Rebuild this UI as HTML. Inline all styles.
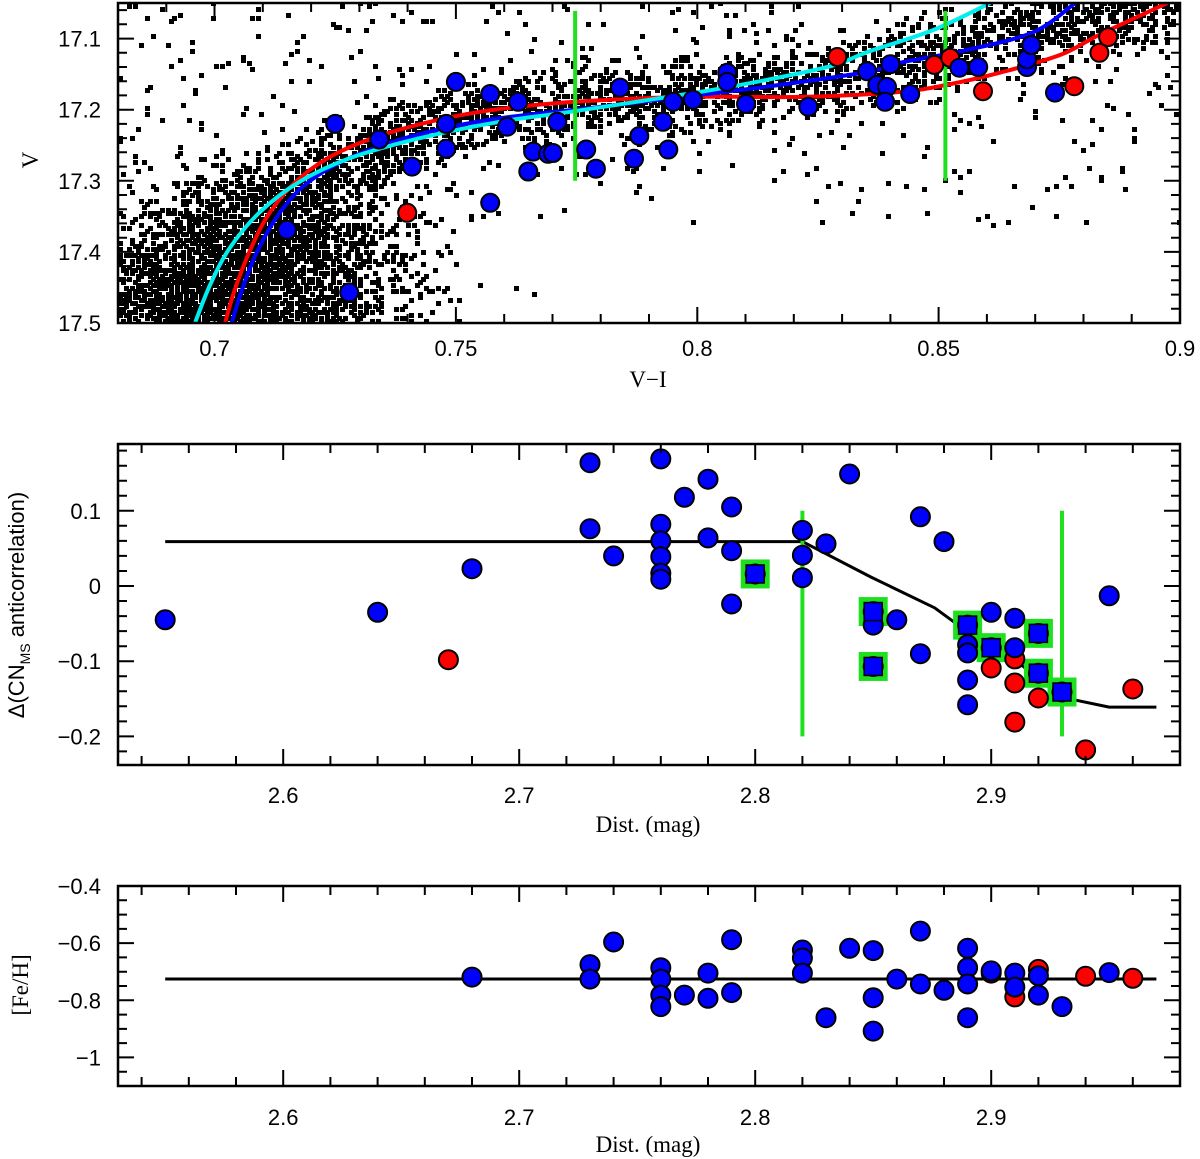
<!DOCTYPE html>
<html><head><meta charset="utf-8"><title>CMD and CN anticorrelation</title>
<style>
html,body{margin:0;padding:0;background:#fff;}
svg{display:block;}
.tk{font-family:"Liberation Sans",sans-serif;font-size:22px;fill:#000;}
.tt{font-family:"Liberation Serif",serif;font-size:23px;fill:#000;}
</style></head>
<body>
<svg id="fig" xmlns="http://www.w3.org/2000/svg" width="1200" height="1159" viewBox="0 0 1200 1159">
<defs>
<clipPath id="c1"><rect x="118" y="3" width="1062" height="320"/></clipPath>
<clipPath id="c2"><rect x="118" y="444" width="1062" height="321"/></clipPath>
<clipPath id="c3"><rect x="118" y="886" width="1062" height="200"/></clipPath>
</defs>
<g id="p1"></g>
<g id="p2"></g>
<g id="p3"></g>
</svg>
<script>
// ---------- Panel 1 data (V-I, V) ----------
const p1BlueC = [0.7250,0.7341,0.7409,0.7150,0.7279,0.7500,0.7571,0.7629,0.7480,0.7480,0.7571,0.7606,0.7660,0.7650,0.7691,0.7701,0.7710,0.7770,0.7790,0.7840,0.7880,0.7869,0.7929,0.7940,0.7950,0.7991,0.8062,0.8062,0.8101,0.8230,0.8352,0.8373,0.8393,0.8400,0.8389,0.8441,0.8543,0.8582,0.8683,0.8683,0.8692,0.8741];
const p1BlueV = [17.220,17.242,17.280,17.369,17.457,17.161,17.178,17.189,17.220,17.255,17.331,17.224,17.259,17.287,17.262,17.261,17.217,17.256,17.283,17.169,17.237,17.269,17.217,17.256,17.189,17.186,17.148,17.161,17.192,17.196,17.146,17.165,17.168,17.136,17.189,17.178,17.141,17.140,17.140,17.129,17.109,17.176];
const p1RedC = [0.7399,0.8290,0.8491,0.8524,0.8592,0.8781,0.8833,0.8851];
const p1RedV = [17.345,17.126,17.137,17.127,17.174,17.167,17.120,17.098];
const redFidC = [0.7022,0.7042,0.7074,0.7115,0.7177,0.7260,0.7384,0.7550,0.7747,0.7985,0.8213,0.8420,0.8524,0.8627,0.8752,0.8835,0.8974];
const redFidV = [17.499,17.453,17.397,17.344,17.296,17.259,17.228,17.203,17.189,17.182,17.182,17.175,17.164,17.148,17.123,17.094,17.05];
const blueFidC = [0.7036,0.7057,0.7088,0.7132,0.7187,0.7270,0.7405,0.7571,0.7799,0.8006,0.8151,0.8352,0.8420,0.8559,0.8696,0.8783];
const blueFidV = [17.499,17.453,17.400,17.348,17.306,17.271,17.238,17.214,17.196,17.179,17.167,17.147,17.134,17.116,17.091,17.05];
const cyanFidC = [0.6960,0.6991,0.7032,0.7094,0.7177,0.7281,0.7426,0.7591,0.7737,0.8006,0.8145,0.8281,0.8352,0.8489,0.8607];
const cyanFidV = [17.499,17.446,17.394,17.344,17.301,17.268,17.240,17.217,17.203,17.175,17.158,17.138,17.119,17.088,17.05];
const p1Cuts = [0.7747,0.8514];
const p1XTicks = [0.7,0.75,0.8,0.85,0.9];
const p1XLabels = ["0.7","0.75","0.8","0.85","0.9"];
const p1YTicks = [17.1,17.2,17.3,17.4,17.5];
const p1YLabels = ["17.1","17.2","17.3","17.4","17.5"];

// ---------- Panel 2 data (Dist, Delta CN) ----------
const p2BlueD = [2.55,2.64,2.68,2.73,2.76,2.78,2.77,2.79,2.84,2.73,2.76,2.76,2.76,2.76,2.76,2.74,2.78,2.79,2.79,2.80,2.82,2.82,2.82,2.83,2.87,2.88,2.85,2.85,2.86,2.85,2.87,2.89,2.89,2.89,2.89,2.89,2.90,2.90,2.91,2.91,2.92,2.92,2.93,2.95];
const p2BlueY = [-0.045,-0.035,0.023,0.164,0.169,0.142,0.118,0.105,0.149,0.076,0.082,0.060,0.039,0.017,0.009,0.040,0.064,0.047,-0.024,0.016,0.074,0.041,0.011,0.056,0.092,0.059,-0.034,-0.052,-0.045,-0.107,-0.090,-0.052,-0.078,-0.089,-0.125,-0.158,-0.035,-0.082,-0.043,-0.082,-0.063,-0.116,-0.141,-0.013];
const p2RedD = [2.67,2.90,2.91,2.91,2.91,2.92,2.94,2.96];
const p2RedY = [-0.098,-0.109,-0.097,-0.129,-0.181,-0.149,-0.218,-0.137];
const p2BoxD = [2.80,2.85,2.85,2.89,2.90,2.92,2.92,2.93];
const p2BoxY = [0.016,-0.034,-0.107,-0.052,-0.082,-0.063,-0.116,-0.141];
const p2LineD = [2.55,2.82,2.849,2.876,2.89,2.91,2.93,2.95,2.97];
const p2LineY = [0.059,0.059,0.012,-0.029,-0.061,-0.098,-0.148,-0.161,-0.161];
const p2Cuts = [2.82,2.93];
const p2YTicks = [0.1,0,-0.1,-0.2];
const p2YLabels = ["0.1","0","\u22120.1","\u22120.2"];
const distTicks = [2.6,2.7,2.8,2.9];
const distLabels = ["2.6","2.7","2.8","2.9"];

// ---------- Panel 3 data (Dist, [Fe/H]) ----------
const p3BlueD = [2.68,2.73,2.73,2.74,2.76,2.76,2.76,2.76,2.77,2.78,2.78,2.79,2.79,2.82,2.82,2.82,2.83,2.84,2.85,2.85,2.85,2.86,2.87,2.87,2.88,2.89,2.89,2.89,2.89,2.90,2.91,2.91,2.92,2.92,2.93,2.95];
const p3BlueF = [-0.719,-0.675,-0.726,-0.596,-0.686,-0.726,-0.782,-0.822,-0.782,-0.705,-0.793,-0.588,-0.773,-0.624,-0.652,-0.705,-0.861,-0.618,-0.626,-0.791,-0.908,-0.726,-0.558,-0.743,-0.765,-0.618,-0.686,-0.743,-0.861,-0.697,-0.705,-0.754,-0.714,-0.782,-0.822,-0.703];
const p3RedD = [2.90,2.91,2.92,2.94,2.96];
const p3RedF = [-0.705,-0.788,-0.692,-0.716,-0.723];
const p3MeanD = [2.55,2.97];
const p3MeanF = [-0.7255,-0.7255];
const p3YTicks = [-0.4,-0.6,-0.8,-1];
const p3YLabels = ["\u22120.4","\u22120.6","\u22120.8","\u22121"];

// ---------- axes ----------
const L=118, R=1180;
const sx1 = c => L + (c-0.68)/(0.22)*(R-L);
const sy1 = v => 3 + (v-17.05)/0.45*320;
const sx2 = d => L + (d-2.53)/(0.45)*(R-L);
const sy2 = v => 586 - v*752;
const sy3 = f => 886 + (-0.4-f)/0.7*200;

const NS="http://www.w3.org/2000/svg";
function mk(tag, parent, attrs){
  const e=document.createElementNS(NS,tag);
  for(const k in attrs) e.setAttribute(k,attrs[k]);
  parent.appendChild(e); return e;
}
const p1=document.getElementById('p1'), p2=document.getElementById('p2'), p3=document.getElementById('p3');

// background stars (texture)
let seed=12345;
function rnd(){ seed=(seed*1103515245+12345)%2147483648; return seed/2147483648; }
function gauss(){ return Math.sqrt(-2*Math.log(rnd()+1e-9))*Math.cos(2*Math.PI*rnd()); }
function interp(xs,ys,x){ for(let i=0;i<xs.length-1;i++){ const a=xs[i],b=xs[i+1]; if((x-a)*(x-b)<=0){ return ys[i]+(ys[i+1]-ys[i])*(x-a)/(b-a);} } return x<xs[0]?ys[0]:ys[ys.length-1]; }
const cloud=mk('g',p1,{'clip-path':'url(#c1)'});


let dpath='';
function dot(c,v){ const x=Math.round(sx1(c)/3)*3, y=Math.round(sy1(v)/3)*3; dpath+=`M${x-2} ${y-2}h5v5h-5z`; }
const bvR=blueFidV.slice().reverse(), bcR=blueFidC.slice().reverse();
for(let i=0;i<3800;i++){ const u=Math.sqrt(rnd()); const v=17.22+u*0.30; const c=interp(bvR,bcR,Math.min(v,17.5))+gauss()*(0.010+(v-17.22)*0.03)-0.004; dot(c,v); }
for(let i=0;i<2000;i++){ const c=0.73+rnd()*0.17; const v=interp(redFidC,redFidV,c)*0.5+interp(cyanFidC,cyanFidV,Math.min(c,0.86))*0.5-0.005+gauss()*0.026; dot(c,v); }
for(let i=0;i<380;i++){ const c=0.68+rnd()*0.22; const v=17.05+Math.pow(rnd(),1.2)*0.45*(c<0.75?1:0.7); dot(c,v); }
for(let i=0;i<150;i++){ const c=0.68+rnd()*0.07; const v=17.05+rnd()*0.45; dot(c,v); }
mk('path',cloud,{d:dpath,fill:'#000'});

function poly(parent,xs,ys,fx,fy,color,w,name,clip,smooth){
  const P=xs.map((x,i)=>[fx(x),fy(ys[i])]);
  let d='M'+P[0][0].toFixed(1)+' '+P[0][1].toFixed(1);
  for(let i=0;i<P.length-1;i++){
    if(smooth){
      const p0=P[Math.max(0,i-1)],p1_=P[i],p2_=P[i+1],p3_=P[Math.min(P.length-1,i+2)];
      const c1=[p1_[0]+(p2_[0]-p0[0])/6,p1_[1]+(p2_[1]-p0[1])/6];
      const c2=[p2_[0]-(p3_[0]-p1_[0])/6,p2_[1]-(p3_[1]-p1_[1])/6];
      d+=`C${c1[0].toFixed(1)} ${c1[1].toFixed(1)} ${c2[0].toFixed(1)} ${c2[1].toFixed(1)} ${p2_[0].toFixed(1)} ${p2_[1].toFixed(1)}`;
    } else d+='L'+P[i+1][0].toFixed(1)+' '+P[i+1][1].toFixed(1);
  }
  const e=mk('path',parent,{d:d,fill:'none',stroke:color,'stroke-width':w,'stroke-linejoin':'round','clip-path':clip});
  
  
  return e;
}
function circles(parent,xs,ys,fx,fy,color,name,r){
  xs.forEach((x,i)=>{
    const e=mk('circle',parent,{cx:fx(x).toFixed(1),cy:fy(ys[i]).toFixed(1),r:r,fill:color,stroke:'#000','stroke-width':2});
    
    
  });
}
function text(parent,x,y,s,cls,anchor,name,rot){
  const e=mk('text',parent,{x:x,y:y,'class':cls,'text-anchor':anchor});
  if(rot) e.setAttribute('transform',`rotate(-90 ${x} ${y})`);
  e.textContent=s;
  
  
  return e;
}
function frame(parent,top,bot,xminor,fx,xmaj,yminor,fy,ymaj,name){
  const e=mk('rect',parent,{x:L,y:top,width:R-L,height:bot-top,fill:'none',stroke:'#000','stroke-width':2.5});
  
  
  let d='';
  xminor.forEach(v=>{const x=fx(v).toFixed(1); const len=xmaj.some(m=>Math.abs(m-v)<1e-6)?16:9; d+=`M${x} ${bot}v-${len}M${x} ${top}v${len}`;});
  yminor.forEach(v=>{const y=fy(v).toFixed(1); const len=ymaj.some(m=>Math.abs(m-v)<1e-6)?16:9; d+=`M${L} ${y}h${len}M${R} ${y}h-${len}`;});
  const t=mk('path',parent,{d:d,stroke:'#000','stroke-width':2,fill:'none'});
  
  
}
function range(a,b,s){const o=[];for(let v=a;v<=b+1e-9;v+=s)o.push(Math.round(v*1000)/1000);return o;}

// ---- Panel 1 ----
poly(p1,redFidC,redFidV,sx1,sy1,'#ff0000',4,'red-fiducial','url(#c1)',true);
poly(p1,blueFidC,blueFidV,sx1,sy1,'#0000ff',4,'blue-fiducial','url(#c1)',true);
poly(p1,cyanFidC,cyanFidV,sx1,sy1,'#00eeee',4,'cyan-fiducial','url(#c1)',true);
p1Cuts.forEach(c=>{ const e=mk('line',p1,{x1:sx1(c),x2:sx1(c),y1:sy1(17.061),y2:sy1(17.30),stroke:'#1ee01e','stroke-width':4});
  
   });
circles(p1,p1RedC,p1RedV,sx1,sy1,'#ff0000','red-star',9);
circles(p1,p1BlueC,p1BlueV,sx1,sy1,'#0000ff','blue-star',9);
frame(p1,3,323,range(0.68,0.9,0.01),sx1,p1XTicks,range(17.06,17.5,0.02),sy1,p1YTicks,'cmd-axes');
p1XTicks.forEach((v,i)=>text(p1,sx1(v),356,p1XLabels[i],'tk','middle','x-tick-label'));
p1YTicks.forEach((v,i)=>text(p1,101,sy1(v)+8,p1YLabels[i],'tk','end','y-tick-label'));
text(p1,648,387,'V\u2212I','tt','middle','x-axis-title');
text(p1,38,160,'V','tt','middle','y-axis-title',true);

// ---- Panel 2 ----
poly(p2,p2LineD,p2LineY,sx2,sy2,'#000',3,'cn-trend-line','url(#c2)',false);
p2Cuts.forEach(d=>{ const e=mk('line',p2,{x1:sx2(d),x2:sx2(d),y1:sy2(0.1),y2:sy2(-0.2),stroke:'#1ee01e','stroke-width':4});
  
   });
p2BoxD.forEach((d,i)=>{ const e=mk('rect',p2,{x:sx2(d)-12,y:sy2(p2BoxY[i])-12,width:24,height:24,fill:'none',stroke:'#1ee01e','stroke-width':5});
  
   });
circles(p2,p2RedD,p2RedY,sx2,sy2,'#ff0000','red-star',9.5);
circles(p2,p2BlueD,p2BlueY,sx2,sy2,'#0000ff','blue-star',9.5);
p2BoxD.forEach((d,i)=>{ const e=mk('rect',p2,{x:sx2(d)-9,y:sy2(p2BoxY[i])-9,width:18,height:18,fill:'#0000ff',stroke:'#000','stroke-width':1.5});
  
   });
frame(p2,444,765,range(2.54,2.98,0.02),sx2,distTicks,range(-0.22,0.18,0.02),sy2,p2YTicks,'cn-axes');
distTicks.forEach((v,i)=>text(p2,sx2(v),803,distLabels[i],'tk','middle','x-tick-label'));
p2YTicks.forEach((v,i)=>text(p2,101,sy2(v)+8,p2YLabels[i],'tk','end','y-tick-label'));
text(p2,648,832,'Dist. (mag)','tt','middle','x-axis-title');
const yt=mk('text',p2,{x:24,y:605,'class':'tk','text-anchor':'middle',transform:'rotate(-90 24 605)'});


yt.innerHTML='\u0394(CN<tspan font-size="14" dy="6">MS</tspan><tspan dy="-6"> anticorrelation)</tspan>';

// ---- Panel 3 ----
poly(p3,p3MeanD,p3MeanF,sx2,sy3,'#000',3,'mean-feh-line','url(#c3)',false);
circles(p3,p3RedD,p3RedF,sx2,sy3,'#ff0000','red-star',9.5);
circles(p3,p3BlueD,p3BlueF,sx2,sy3,'#0000ff','blue-star',9.5);
frame(p3,886,1086,range(2.54,2.98,0.02),sx2,distTicks,range(-1.05,-0.4,0.05),sy3,p3YTicks,'feh-axes');
distTicks.forEach((v,i)=>text(p3,sx2(v),1125,distLabels[i],'tk','middle','x-tick-label'));
p3YTicks.forEach((v,i)=>text(p3,101,sy3(v)+8,p3YLabels[i],'tk','end','y-tick-label'));
text(p3,648,1152,'Dist. (mag)','tt','middle','x-axis-title');
text(p3,28,985,'[Fe/H]','tt','middle','y-axis-title',true);
</script>
</body></html>
